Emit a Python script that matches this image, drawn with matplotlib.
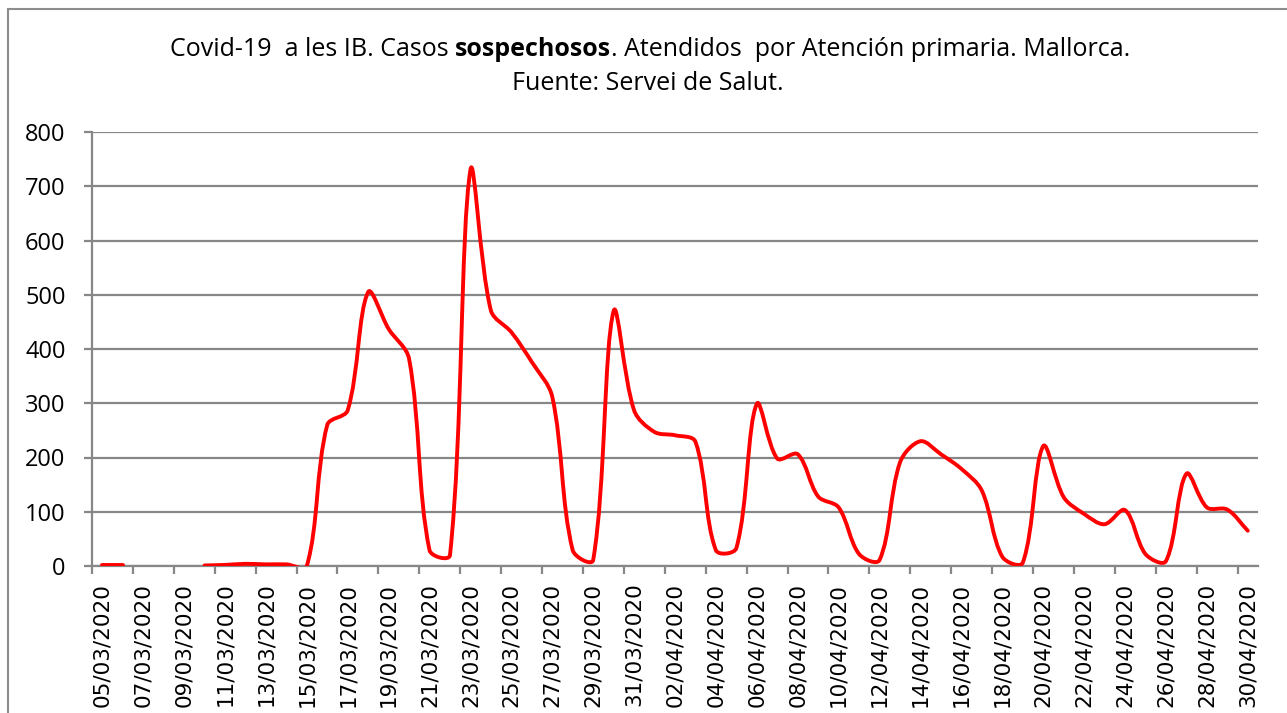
import numpy as np
import pandas as pd
import matplotlib
matplotlib.use("Agg")
import matplotlib.pyplot as plt
from matplotlib.path import Path
from matplotlib.patches import PathPatch
from matplotlib.lines import Line2D

# daily categories 05/03/2020 .. 30/04/2020
dates = pd.date_range("2020-03-05", "2020-04-30", freq="D")
labels = [d.strftime("%d/%m/%Y") for d in dates]

# suspected cases (NaN = no data)
casos_mar = [1, 1, np.nan, np.nan, np.nan, 1, 2, 4, 3, 3, 0, 260, 287, 505, 437,
             382, 29, 20, 730, 471, 431, 376, 312, 29, 11, 470, 287]
casos_abr = [247, 241, 229, 29, 33, 299, 198, 206, 128, 108, 22, 11, 191, 230, 206,
             179, 139, 17, 6, 221, 127, 96, 77, 103, 22, 9, 170, 108, 104, 65]
casos = np.array(casos_mar + casos_abr, dtype=float)

yticks = [0, 100, 200, 300, 400, 500, 600, 700, 800]

W, H = 1287, 713
fig = plt.figure(figsize=(W / 100, H / 100), dpi=100)
ax = fig.add_axes([92 / W, 1 - 566 / H, (1258 - 92) / W, (566 - 132) / H])

x = np.arange(len(labels))
ax.set_xlim(-0.5, len(labels) - 0.5)
ax.set_ylim(0, 800)

grid_c = "#878787"
ax.set_yticks(yticks)
ax.yaxis.grid(True, color=grid_c, lw=1.6)
ax.set_axisbelow(True)
for s in ["top", "right"]:
    ax.spines[s].set_visible(False)
ax.spines["left"].set_color(grid_c)
ax.spines["left"].set_linewidth(1.6)
ax.spines["bottom"].set_color(grid_c)
ax.spines["bottom"].set_linewidth(1.6)

ax.set_xticks(x[::2])
ax.set_xticklabels(labels[::2], rotation=90, fontsize=15.5, family="DejaVu Sans")
ax.set_xticks(np.arange(-0.5, len(labels), 2), minor=True)
ax.tick_params(axis="x", which="major", length=0, pad=12)
ax.tick_params(axis="x", which="minor", length=6, width=1.6, color=grid_c)
ax.tick_params(axis="y", length=6, width=1.6, color=grid_c, labelsize=17, pad=13)
for t in ax.get_yticklabels():
    t.set_family("Open Sans")


def smooth_path(xs, ys):
    # excel-like bezier smoothing, tangent weights from pixel distances
    sx = ax.transData.transform((1, 0))[0] - ax.transData.transform((0, 0))[0]
    sy = ax.transData.transform((0, 1))[1] - ax.transData.transform((0, 0))[1]
    P = np.column_stack([xs, ys])
    n = len(P)
    if n < 3:
        return Path(P)
    verts = [P[0]]
    codes = [Path.MOVETO]
    for i in range(n - 1):
        a = P[i - 1] if i > 0 else P[i]
        b, c = P[i], P[i + 1]
        d = P[i + 2] if i + 2 < n else P[i + 1]

        def dist(p, q):
            return np.hypot((p[0] - q[0]) * sx, (p[1] - q[1]) * sy)
        d1, d2, d3 = dist(a, b), dist(b, c), dist(c, d)
        k1 = d2 / (3 * (d1 + d2)) if d1 + d2 > 0 else 0
        k2 = d2 / (3 * (d2 + d3)) if d2 + d3 > 0 else 0
        c1 = b + (c - a) * k1
        c2 = c - (d - b) * k2
        verts += [c1, c2, c]
        codes += [Path.CURVE4] * 3
    return Path(np.array(verts), codes)


# split series at missing values
ok = ~np.isnan(casos)
idx = np.where(ok)[0]
runs = np.split(idx, np.where(np.diff(idx) > 1)[0] + 1)
for r in runs:
    p = smooth_path(x[r].astype(float), casos[r])
    ax.add_patch(PathPatch(p, fill=False, edgecolor="#ff0000", lw=2.8,
                           capstyle="round", joinstyle="round", zorder=3))

# outer chart border (cut off at right/bottom in the original)
fig.add_artist(Line2D([7.5 / W, 7.5 / W], [0, 1 - 9 / H], color="#8c8c8c", lw=1.5))
fig.add_artist(Line2D([7.5 / W, 1], [1 - 9 / H, 1 - 9 / H], color="#8c8c8c", lw=1.5))

# title, with one bold word
tfont = dict(family="Open Sans", fontsize=18, color="black")
parts = [("Covid-19  a les IB. Casos ", "normal"), ("sospechosos", "bold"),
         (". Atendidos  por Atención primaria. Mallorca.", "normal")]
renderer = fig.canvas.get_renderer()
texts = [fig.text(0, 1 - 56 / H, s, weight=w, va="baseline", ha="left", **tfont)
         for s, w in parts]
widths = [t.get_window_extent(renderer).width for t in texts]
xpos = 650 - sum(widths) / 2
for t, w in zip(texts, widths):
    t.set_x(xpos / W)
    xpos += w
fig.text(648 / W, 1 - 90 / H, "Fuente: Servei de Salut.", ha="center", va="baseline", **tfont)

fig.savefig("out.png", dpi=100, facecolor="white")
